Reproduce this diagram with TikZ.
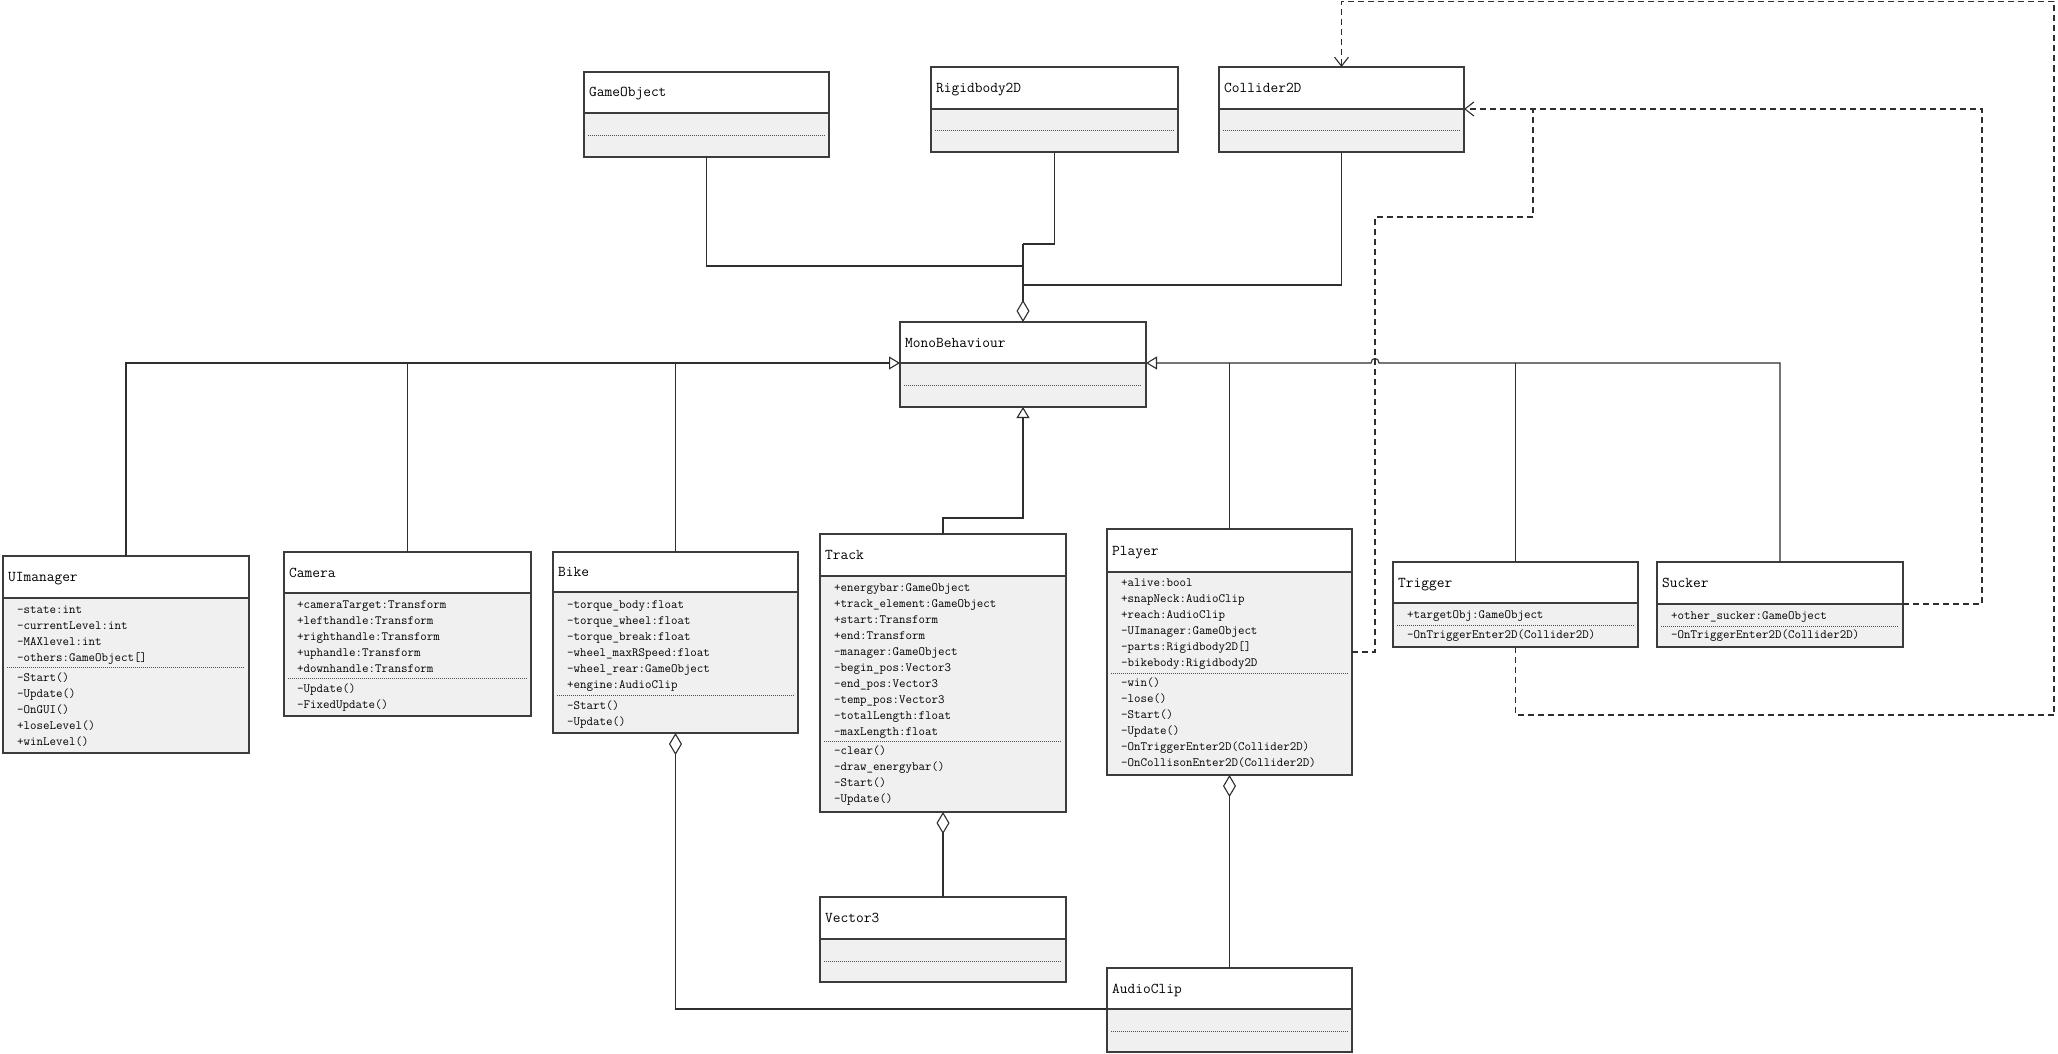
\documentclass[tikz,border=0pt]{standalone}
\usetikzlibrary{arrows.meta,calc}
\definecolor{boxc}{HTML}{3C3C3C}
\definecolor{linec}{HTML}{2E2E2E}
\definecolor{compfill}{HTML}{F0F0F0}
\tikzset{
  boxnode/.style={draw=boxc, line width=1.3pt, inner sep=0pt, outer sep=0pt, rectangle},
  sepline/.style={draw=black!70, line width=0.8pt, dash pattern=on 1pt off 1pt},
  titletext/.style={font=\ttfamily\fontsize{15}{18}\selectfont, inner sep=0pt},
  membertext/.style={font=\ttfamily\fontsize{12.6}{16}\selectfont, inner sep=0pt, align=left},
  conn/.style={draw=linec, line width=1.1pt},
  inh/.style={conn, -{Triangle[open, length=11pt, width=13pt, fill=white]}},
  agg/.style={conn, {Diamond[open, length=22pt, width=13pt, fill=white]}-},
  dep/.style={conn, dash pattern=on 6pt off 4pt, -{Straight Barb[length=9pt, width=14pt]}},
  depline/.style={conn, dash pattern=on 6pt off 4pt},
}
% name, L, T, R, H(header bottom), D(dotted), B(bottom), title
\newcommand\umlcls[8]{%
  \fill[compfill] (#2,#5) rectangle (#4,#7);
  \draw[sepline] ({#2+4},#6) -- ({#4-4},#6);
  \draw[draw=boxc, line width=1.3pt] (#2,#5) -- (#4,#5);
  \node[boxnode, minimum width={#4-#2}, minimum height={#7-#3}, anchor=north west] (#1) at (#2,#3) {};
  \coordinate (#1-hw) at (#2,#5);
  \coordinate (#1-he) at (#4,#5);
  \node[titletext, anchor=base west] (#1-t) at ({#2+5},{(#3+#5)/2+4.5}) {#8};
}
\begin{document}
\begin{tikzpicture}[x=1pt,y=-1pt]
\fill[white] (0,0) rectangle (2058,1054);
\useasboundingbox (0,0) rectangle (2058,1054);

% ---- classes
\umlcls{gobj}{584}{72}{829}{113}{135}{157}{GameObject}
\umlcls{rigid}{931}{67}{1178}{109}{130}{152}{Rigidbody2D}
\umlcls{coll}{1219}{67}{1464}{109}{130}{152}{Collider2D}
\umlcls{mono}{900}{322}{1146}{363}{385}{407}{MonoBehaviour}
\umlcls{uim}{3}{556}{249}{598}{667}{753}{UImanager}
\umlcls{cam}{284}{552}{531}{593}{678}{716}{Camera}
\umlcls{bike}{553}{552}{798}{592}{695}{733}{Bike}
\umlcls{track}{820}{534}{1066}{576}{741}{812}{Track}
\umlcls{play}{1107}{529}{1352}{572}{673}{775}{Player}
\umlcls{trig}{1393}{562}{1638}{603}{625}{647}{Trigger}
\umlcls{suck}{1657}{562}{1903}{604}{626}{647}{Sucker}
\umlcls{vec}{820}{897}{1066}{939}{961}{982}{Vector3}
\umlcls{audio}{1107}{968}{1352}{1009}{1031}{1052}{AudioClip}

% ---- members
\node[membertext, anchor=north west] (uim-a) at (17,601.7) {\strut-state:int\\\strut-currentLevel:int\\\strut-MAXlevel:int\\\strut-others:GameObject[]};
\node[membertext, anchor=north west] (uim-m) at (17,669.7) {\strut-Start()\\\strut-Update()\\\strut-OnGUI()\\\strut+loseLevel()\\\strut+winLevel()};

\node[membertext, anchor=north west] (cam-a) at (297,596.7) {\strut+cameraTarget:Transform\\\strut+lefthandle:Transform\\\strut+righthandle:Transform\\\strut+uphandle:Transform\\\strut+downhandle:Transform};
\node[membertext, anchor=north west] (cam-m) at (297,680.7) {\strut-Update()\\\strut-FixedUpdate()};

\node[membertext, anchor=north west] (bike-a) at (567,597) {\strut-torque\_body:float\\\strut-torque\_wheel:float\\\strut-torque\_break:float\\\strut-wheel\_maxRSpeed:float\\\strut-wheel\_rear:GameObject\\\strut+engine:AudioClip};
\node[membertext, anchor=north west] (bike-m) at (567,697.7) {\strut-Start()\\\strut-Update()};

\node[membertext, anchor=north west] (track-a) at (834,580.2) {\strut+energybar:GameObject\\\strut+track\_element:GameObject\\\strut+start:Transform\\\strut+end:Transform\\\strut-manager:GameObject\\\strut-begin\_pos:Vector3\\\strut-end\_pos:Vector3\\\strut-temp\_pos:Vector3\\\strut-totalLength:float\\\strut-maxLength:float};
\node[membertext, anchor=north west] (track-m) at (834,743.2) {\strut-clear()\\\strut-draw\_energybar()\\\strut-Start()\\\strut-Update()};

\node[membertext, anchor=north west] (play-a) at (1121,575.2) {\strut+alive:bool\\\strut+snapNeck:AudioClip\\\strut+reach:AudioClip\\\strut-UImanager:GameObject\\\strut-parts:Rigidbody2D[]\\\strut-bikebody:Rigidbody2D};
\node[membertext, anchor=north west] (play-m) at (1121,675.2) {\strut-win()\\\strut-lose()\\\strut-Start()\\\strut-Update()\\\strut-OnTriggerEnter2D(Collider2D)\\\strut-OnCollisonEnter2D(Collider2D)};

\node[membertext, anchor=north west] (trig-a) at (1407,607.2) {\strut+targetObj:GameObject};
\node[membertext, anchor=north west] (trig-m) at (1407,627.2) {\strut-OnTriggerEnter2D(Collider2D)};

\node[membertext, anchor=north west] (suck-a) at (1671,608) {\strut+other\_sucker:GameObject};
\node[membertext, anchor=north west] (suck-m) at (1671,627.2) {\strut-OnTriggerEnter2D(Collider2D)};

% ---- aggregation into MonoBehaviour
\coordinate (mjR) at ($(mono.north)+(0,-78)$);
\coordinate (mjG) at ($(mono.north)+(0,-56)$);
\coordinate (mjC) at ($(mono.north)+(0,-37)$);
\draw[conn] (gobj.south) |- (mjG);
\draw[conn] (rigid.south) |- (mjR);
\draw[conn] (coll.south) |- (mjC);
\draw[agg] (mono.north) -- (mjR);

% ---- inheritance
\draw[inh] (uim.north) |- (mono-hw);
\draw[conn] (cam.north) -- (cam.north |- mono-hw);
\draw[conn] (bike.north) -- (bike.north |- mono-hw);
\coordinate (jmp) at (1375,363);
\draw[inh] (suck.north) |- ($(jmp)+(4,0)$) .. controls ($(jmp)+(4,-6)$) and ($(jmp)+(-4,-6)$) .. ($(jmp)+(-4,0)$) -- (mono-he);
\draw[conn] (trig.north) -- (trig.north |- mono-he);
\draw[conn] (play.north) -- (play.north |- mono-he);
\draw[inh] (track.north) -- ++(0,-16) -| (mono.south);

% ---- aggregations
\draw[agg] (track.south) -- (vec.north);
\draw[agg] (play.south) -- (audio.north);
\draw[agg] (bike.south) |- (audio-hw);

% ---- dependencies
\coordinate (tgA) at ($(trig.south)+(0,68)$);
\coordinate (tgB) at (2054,1.5);
\draw[dep] (trig.south) -- (tgA) -| (tgB) -| (coll.north);
\draw[dep] (suck-he) -- ++(79,0) |- (coll-he);
\coordinate (plA) at ($(play.north east)+(0,123)$);
\coordinate (plB) at (1533,217);
\draw[depline] (plA) -- ++(23,0) |- (plB) -- (plB |- coll-he);
\end{tikzpicture}
\end{document}
